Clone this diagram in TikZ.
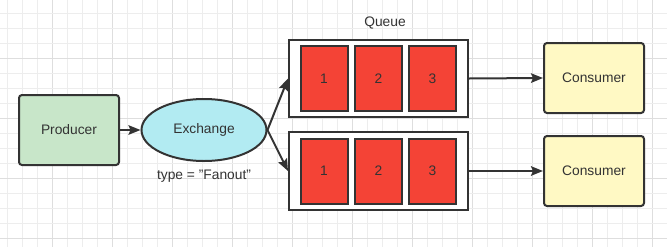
\documentclass[tikz,border=0pt]{standalone}
\usepackage{fontspec}
\setmainfont{Liberation Sans}
\usetikzlibrary{arrows.meta,shapes.geometric}
\definecolor{gridminor}{HTML}{EDEDED}
\definecolor{gridmajor}{HTML}{DEDEDE}
\definecolor{ink}{HTML}{333333}
\definecolor{prodfill}{HTML}{C8E6C9}
\definecolor{exfill}{HTML}{B2EBF2}
\definecolor{consfill}{HTML}{FFF9C4}
\definecolor{cellfill}{HTML}{F44336}
\begin{document}
\begin{tikzpicture}[x=1pt,y=-1pt,
  lbl/.style={text=ink,font=\fontsize{13.8}{16}\selectfont,inner sep=0pt},
  rbox/.style={lbl,draw=ink,line width=2pt,rounded corners=3pt,minimum width=100pt,minimum height=70pt},
  qbox/.style={draw=ink,fill=white,line width=2pt,minimum width=179pt,minimum height=77pt,inner sep=0pt},
  cell/.style={lbl,draw=ink,fill=cellfill,line width=2pt,minimum width=47pt,minimum height=65pt},
  conn/.style={draw=ink,line width=2pt,-{Stealth[length=12pt,width=9.5pt,inset=2pt]}}]
\useasboundingbox (0,0) rectangle (667,247);
\fill[white] (0,0) rectangle (667,247);
% grid
\foreach \i in {0,...,44}{
  \pgfmathtruncatemacro{\m}{mod(\i,4)}
  \ifnum\m=3 \draw[gridmajor,line width=1pt] ({7.3+15*\i},0) -- ({7.3+15*\i},247);
  \else \draw[gridminor,line width=1pt] ({7.3+15*\i},0) -- ({7.3+15*\i},247); \fi
}
\foreach \j in {0,...,15}{
  \pgfmathtruncatemacro{\m}{mod(\j,4)}
  \ifnum\m=3 \draw[gridmajor,line width=1pt] (0,{13.3+15*\j}) -- (667,{13.3+15*\j});
  \else \draw[gridminor,line width=1pt] (0,{13.3+15*\j}) -- (667,{13.3+15*\j}); \fi
}
% nodes
\node[rbox,fill=prodfill] (prod) at (69,130) {Producer};
\node[lbl,ellipse,draw=ink,fill=exfill,line width=2pt,minimum width=125pt,minimum height=62pt] (exch) at (204,130) {Exchange};
\node[lbl] (type) at (204,176) {type = "Fanout"};
\node[lbl] (qlabel) at (385,23) {Queue};
\node[qbox] (q1) at (378.5,78.5) {};
\node[qbox,minimum height=78pt] (q2) at (378.5,171) {};
\node[cell] (a1) at (324,78.3) {1};
\node[cell] (a2) at (378.5,78.3) {2};
\node[cell] (a3) at (432.5,78.3) {3};
\node[cell] (b1) at (324,171) {1};
\node[cell] (b2) at (378.5,171) {2};
\node[cell] (b3) at (432.5,171) {3};
\node[rbox,fill=consfill] (c1) at (594,78) {Consumer};
\node[rbox,fill=consfill] (c2) at (594,171) {Consumer};
% connectors
\draw[conn] (prod.east) -- (exch.west);
\draw[conn] (exch.east) -- (q1.west);
\draw[conn] (exch.east) -- (q2.west);
\draw[conn] (q1.east) -- (c1.west);
\draw[conn] (q2.east) -- (c2.west);
\end{tikzpicture}
\end{document}
